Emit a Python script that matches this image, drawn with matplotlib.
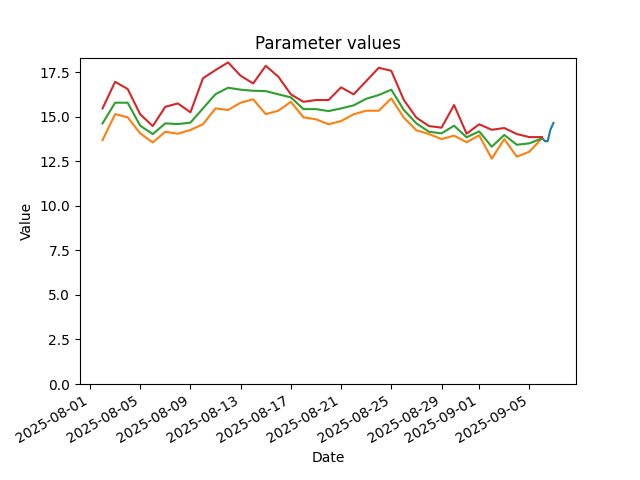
import matplotlib
matplotlib.use("Agg")
import matplotlib.pyplot as plt
import pandas as pd

dates = pd.date_range("2025-08-02", periods=36, freq="D")

lower = [13.68, 15.14, 14.96, 14.06, 13.55, 14.15, 14.04, 14.25, 14.57, 15.46, 15.37, 15.78,
         15.97, 15.14, 15.33, 15.83, 14.96, 14.85, 14.57, 14.75, 15.13, 15.33, 15.33, 16.02,
         14.94, 14.23, 14.02, 13.74, 13.93, 13.56, 13.95, 12.64, 13.74, 12.75, 13.03, 13.78]
median = [14.62, 15.78, 15.78, 14.49, 14.02, 14.62, 14.58, 14.66, 15.46, 16.26, 16.62, 16.51,
          16.45, 16.43, 16.25, 16.08, 15.42, 15.42, 15.31, 15.46, 15.63, 16.00, 16.21, 16.51,
          15.37, 14.62, 14.15, 14.06, 14.49, 13.84, 14.17, 13.31, 13.97, 13.42, 13.50, 13.78]
upper = [15.46, 16.95, 16.55, 15.13, 14.47, 15.55, 15.74, 15.24, 17.15, 17.61, 18.04, 17.29,
         16.86, 17.85, 17.24, 16.25, 15.83, 15.93, 15.93, 16.64, 16.25, 16.99, 17.74, 17.57,
         15.93, 14.94, 14.47, 14.38, 15.65, 14.04, 14.57, 14.26, 14.36, 14.02, 13.85, 13.85]

recent_times = pd.to_datetime(["2025-09-06 00:00", "2025-09-06 06:00", "2025-09-06 11:00",
                               "2025-09-06 16:00", "2025-09-06 22:00"])
recent_vals = [13.80, 13.62, 13.62, 14.25, 14.65]

fig, ax = plt.subplots(figsize=(6.4, 4.8), dpi=100)
ax.plot(recent_times, recent_vals, color="C0")
ax.plot(dates, lower, color="C1")
ax.plot(dates, median, color="C2")
ax.plot(dates, upper, color="C3")
ax.set_ylim(bottom=0)
ax.set_title("Parameter values")
ax.set_xlabel("Date")
ax.set_ylabel("Value")
fig.autofmt_xdate()
fig.savefig("out.png")
